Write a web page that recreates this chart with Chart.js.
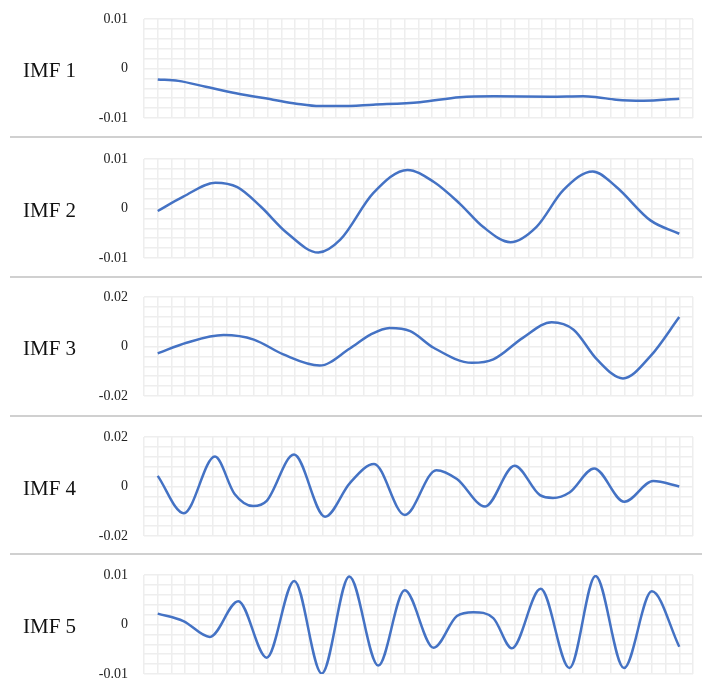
<!DOCTYPE html>
<html>
<head>
<meta charset="utf-8">
<script src="https://cdn.jsdelivr.net/npm/chart.js@4.4.1/dist/chart.umd.min.js"></script>
<style>
  html, body { margin: 0; padding: 0; background: #fff; }
  #wrap { position: relative; width: 702px; height: 679px; overflow: hidden; }
  .panel { position: absolute; left: 0; width: 702px; height: 139px; }
  .label { position: absolute; left: 23px; font-family: "Liberation Serif", "Times New Roman", serif; font-size: 21px; color: #111; line-height: 28px; }
  .sep { position: absolute; left: 10px; right: 0; height: 0; border-top: 2px solid #d0d0d0; }
</style>
</head>
<body>
<div id="wrap"></div>
<script>
// one x/y list per IMF, x measured in grid columns (0..40)
const imfNames = ['IMF 1', 'IMF 2', 'IMF 3', 'IMF 4', 'IMF 5']
const yLimits = [0.01, 0.01, 0.02, 0.02, 0.01]

const imf1X = [1, 2.5, 4.5, 6.7, 9.4, 11.1, 12.8, 14.3, 16.7, 20.1, 23, 25.5, 29.6, 32, 33, 34.4, 36.4, 39]
const imf1Y = [-0.0022, -0.0025, -0.0037, -0.005, -0.0063, -0.0071, -0.0076, -0.0076, -0.0073, -0.0068, -0.0058, -0.0056, -0.0057, -0.0056, -0.0058, -0.0063, -0.0065, -0.0061]

const imf2X = [1, 2.86, 5.2, 6.8, 8.5, 10.4, 12.7, 14.3, 16.7, 19.2, 21.1, 23, 24.7, 26.7, 28.6, 30.55, 32.7, 34.4, 36.9, 39]
const imf2Y = [-0.0005, 0.0024, 0.0052, 0.0043, 0.0004, -0.0049, -0.0089, -0.0063, 0.0031, 0.0078, 0.0054, 0.001, -0.0037, -0.0068, -0.0037, 0.0037, 0.0075, 0.0044, -0.0024, -0.0051]

const imf3X = [1, 3.1, 5.8, 8, 10.15, 12.8, 15, 16.5, 17.9, 19.4, 21.1, 23.9, 25.45, 27.6, 29.7, 31.3, 33, 34.9, 36.9, 39]
const imf3Y = [-0.0028, 0.0015, 0.0046, 0.0028, -0.0032, -0.0077, -0.0008, 0.0048, 0.0075, 0.0062, -0.0005, -0.0066, -0.0052, 0.0035, 0.0098, 0.0068, -0.0052, -0.0129, -0.0039, 0.0119]

const imf4X = [1, 2.9, 5.17, 6.6, 7.96, 8.94, 10.93, 13.19, 15, 16.76, 19, 21.3, 22.8, 24.85, 27, 28.85, 29.8, 31, 32.8, 35, 37.1, 39]
const imf4Y = [0.0043, -0.0108, 0.0121, -0.003, -0.0079, -0.0058, 0.0129, -0.0122, 0.0014, 0.0091, -0.0115, 0.0066, 0.003, -0.0081, 0.0084, -0.0035, -0.0046, -0.0024, 0.0073, -0.0062, 0.0022, 0.0]

const imf5X = [1, 2.87, 4.8, 6.87, 8.94, 10.95, 12.95, 14.96, 17.07, 19.0, 21.1, 22.8, 24.0, 25.45, 26.8, 28.9, 31.0, 32.9, 34.97, 37.0, 39]
const imf5Y = [0.0022, 0.0007, -0.0025, 0.0047, -0.0067, 0.0088, -0.0099, 0.0097, -0.0083, 0.0069, -0.0047, 0.0017, 0.0025, 0.0013, -0.0048, 0.0072, -0.0088, 0.0098, -0.0088, 0.0067, -0.0045]

const seriesX = [imf1X, imf2X, imf3X, imf4X, imf5X]
const seriesY = [imf1Y, imf2Y, imf3Y, imf4Y, imf5Y]

// 10 grid rows per panel, labels only at -lim, 0, lim
const gridRows = 10

const panelTops = [0, 140, 278, 418, 556]
const separators = [137, 277, 416, 554]

const gridColor = '#eeeeee'
const wrap = document.getElementById('wrap')

separators.forEach((y) => {
  const s = document.createElement('div')
  s.className = 'sep'
  s.style.top = (y - 1) + 'px'
  wrap.appendChild(s)
})

imfNames.forEach((name, i) => {
  const panel = document.createElement('div')
  panel.className = 'panel'
  panel.style.top = panelTops[i] + 'px'
  const canvas = document.createElement('canvas')
  canvas.width = 702
  canvas.height = 139
  panel.appendChild(canvas)

  const label = document.createElement('div')
  label.className = 'label'
  label.textContent = name
  label.style.top = (19 + 49.5 - 13) + 'px'
  panel.appendChild(label)
  wrap.appendChild(panel)

  const lim = yLimits[i]
  new Chart(canvas, {
    type: 'line',
    data: {
      datasets: [{
        data: seriesX[i].map((x, k) => ({ x: x, y: seriesY[i][k] })),
        borderColor: '#4472c4',
        borderWidth: 2.5,
        pointRadius: 0,
        cubicInterpolationMode: 'monotone',
        fill: false
      }]
    },
    options: {
      responsive: false,
      animation: false,
      devicePixelRatio: 1,
      layout: { padding: { top: 19, bottom: 21, left: 0, right: 9 } },
      plugins: {
        legend: { display: false },
        tooltip: { enabled: false }
      },
      scales: {
        x: {
          type: 'linear',
          min: 0,
          max: 40,
          afterFit: (s) => { s.height = 0 },
          ticks: { display: false, stepSize: 1, autoSkip: false },
          grid: { color: gridColor, lineWidth: 1.5, drawTicks: false },
          border: { display: false }
        },
        y: {
          min: -lim,
          max: lim,
          afterFit: (s) => {
            s.width = 144
            s.paddingTop = 0
            s.paddingBottom = 0
          },
          afterBuildTicks: (s) => {
            const t = []
            for (let k = 0; k <= gridRows; k++) t.push({ value: -lim + (2 * lim * k) / gridRows })
            s.ticks = t
          },
          ticks: {
            autoSkip: false,
            padding: 16,
            color: '#222',
            font: { family: '"Liberation Serif", "Times New Roman", serif', size: 14 },
            callback: (v) => {
              if (Math.abs(v) < 1e-9) return '0'
              if (Math.abs(Math.abs(v) - lim) < 1e-9) return String(v > 0 ? lim : -lim)
              return ''
            }
          },
          grid: { color: gridColor, lineWidth: 1.5, drawTicks: false },
          border: { display: false }
        }
      }
    }
  })
})
</script>
</body>
</html>
